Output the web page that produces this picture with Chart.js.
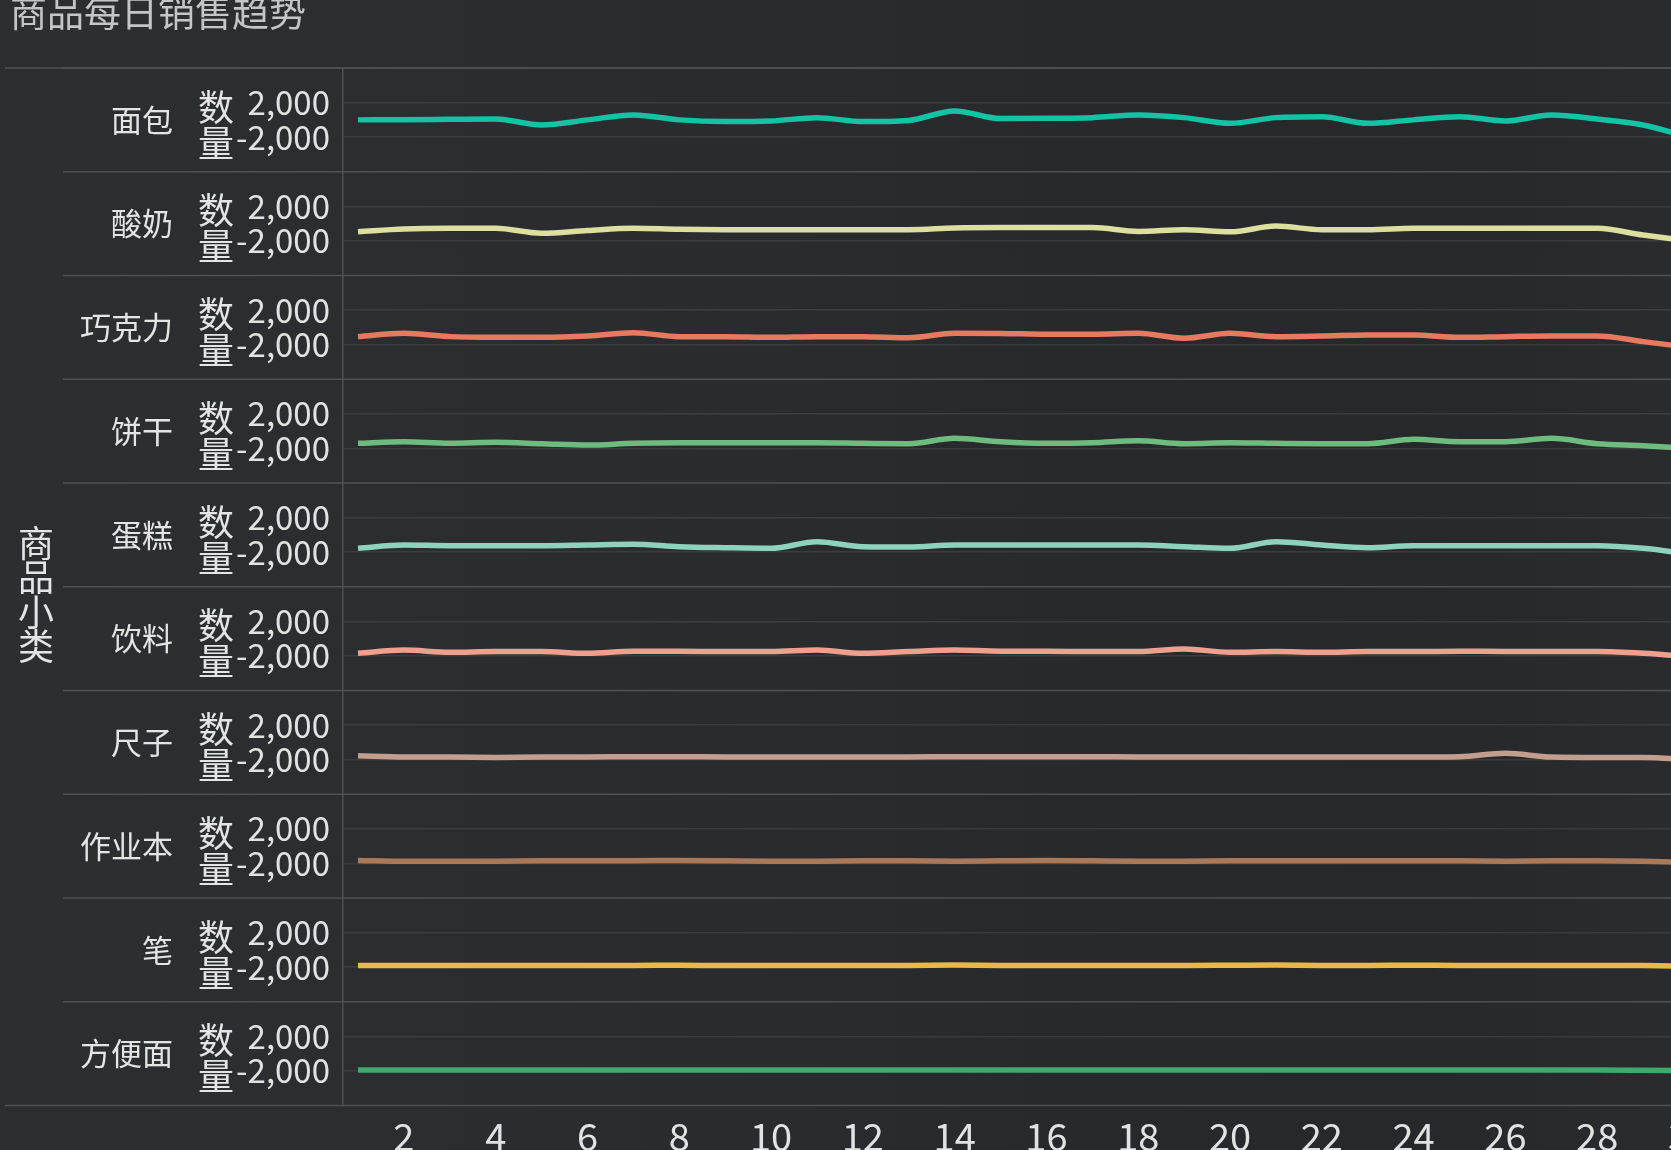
<!DOCTYPE html>
<html>
<head>
<meta charset="utf-8">
<title>商品每日销售趋势</title>
<script src="https://cdn.jsdelivr.net/npm/chart.js@4.4.1/dist/chart.umd.min.js"></script>
<style>
  html, body { margin: 0; padding: 0; }
  body {
    width: 1671px; height: 1150px; overflow: hidden;
    background: linear-gradient(90deg, #2d2e32 0%, #2b2c30 35%, #28292d 65%, #27282c 85%, #2a2b2f 100%);
  }
  #wrap { position: relative; width: 1671px; height: 1150px; overflow: hidden; }
  canvas { position: absolute; left: 0; top: 0; }
</style>
</head>
<body>
<div id="wrap"><canvas id="trend" width="1760" height="1150"></canvas></div>
<script>
// 日期 (1~30日)
var days = [1,2,3,4,5,6,7,8,9,10,11,12,13,14,15,16,17,18,19,20,21,22,23,24,25,26,27,28,29,30];

// 商品小类
var categories = ['面包','酸奶','巧克力','饼干','蛋糕','饮料','尺子','作业本','笔','方便面'];
var colors = ['#13c3a3','#dcdf9e','#e57a5f','#6dbb7d','#8dd1be','#eea08e','#c49e8c','#a87a5a','#e9b847','#3dab6c'];

// 每日数量
var breadQty     = [0,20,60,100,-590,0,570,0,-200,-130,260,-200,-60,1030,150,180,260,570,260,-400,260,370,-400,0,370,-130,570,100,-590,-2000];
var yogurtQty    = [-940,-625,-545,-545,-1120,-800,-545,-660,-700,-700,-700,-700,-700,-500,-450,-450,-450,-900,-700,-950,-280,-700,-700,-545,-545,-545,-545,-545,-1320,-2000];
var chocolateQty = [-1070,-685,-1070,-1150,-1150,-995,-610,-1070,-1070,-1150,-1070,-1070,-1190,-685,-700,-800,-800,-685,-1260,-685,-1070,-995,-880,-880,-1150,-1070,-995,-995,-1650,-2300];
var biscuitQty   = [-1410,-1225,-1410,-1300,-1450,-1610,-1410,-1350,-1350,-1350,-1350,-1410,-1450,-835,-1225,-1410,-1350,-1110,-1450,-1350,-1410,-1450,-1450,-950,-1225,-1225,-835,-1450,-1690,-2000];
var cakeQty      = [-1550,-1170,-1250,-1250,-1250,-1170,-1090,-1365,-1480,-1550,-785,-1365,-1400,-1170,-1170,-1170,-1170,-1170,-1365,-1550,-785,-1170,-1480,-1250,-1250,-1250,-1250,-1250,-1550,-2200];
var drinkQty     = [-1700,-1320,-1575,-1500,-1500,-1700,-1450,-1450,-1500,-1500,-1320,-1700,-1500,-1320,-1450,-1450,-1500,-1500,-1200,-1575,-1500,-1575,-1500,-1500,-1450,-1500,-1500,-1500,-1700,-2100];
var rulerQty     = [-1550,-1700,-1700,-1750,-1700,-1700,-1650,-1650,-1700,-1700,-1700,-1700,-1700,-1650,-1650,-1650,-1650,-1700,-1700,-1700,-1700,-1700,-1700,-1700,-1650,-1250,-1700,-1750,-1750,-2000];
var notebookQty  = [-1650,-1750,-1750,-1750,-1700,-1700,-1700,-1650,-1700,-1750,-1750,-1700,-1700,-1750,-1700,-1650,-1700,-1750,-1750,-1700,-1700,-1700,-1700,-1700,-1700,-1750,-1700,-1700,-1750,-1900];
var penQty       = [-1800,-1800,-1800,-1800,-1800,-1800,-1800,-1780,-1820,-1800,-1800,-1800,-1800,-1760,-1800,-1800,-1800,-1800,-1800,-1780,-1760,-1800,-1800,-1780,-1800,-1800,-1800,-1800,-1820,-1900];
var noodleQty    = [-1900,-1900,-1900,-1900,-1900,-1900,-1900,-1900,-1900,-1900,-1900,-1900,-1900,-1900,-1900,-1900,-1900,-1900,-1900,-1900,-1900,-1900,-1900,-1900,-1900,-1900,-1900,-1900,-1920,-1960];

// y轴刻度
var yTicks = [-2000, 2000];

var series = [breadQty, yogurtQty, chocolateQty, biscuitQty, cakeQty, drinkQty, rulerQty, notebookQty, penQty, noodleQty];
var FONT = "'Noto Sans CJK SC', 'Noto Sans', sans-serif";

var datasets = [];
var scales = {
	x: {
		type: 'linear',
		position: 'bottom',
		min: 0.673,
		max: 30.327,
		grid: { display: false },
		border: { display: false },
		ticks: {
			stepSize: 2,
			includeBounds: false,
			autoSkip: false,
			maxRotation: 0,
			color: '#e2e2e2',
			padding: 0,
			font: { family: FONT, size: 38 }
		},
		afterFit: function(scale) { scale.height = 44.5; }
	}
};

for (var i = 0; i < categories.length; i++) {
	datasets.push({
		label: categories[i],
		data: series[i],
		yAxisID: 'y' + i,
		borderColor: colors[i],
		backgroundColor: colors[i],
		borderWidth: 5.5,
		pointRadius: 0,
		cubicInterpolationMode: 'monotone',
		fill: false
	});
	scales['y' + i] = {
		type: 'linear',
		position: 'left',
		stack: 'rows',
		stackWeight: 1,
		weight: categories.length - i,
		min: -6000,
		max: 6000,
		grid: { color: '#3b3c40', lineWidth: 1.5, drawTicks: false },
		border: { display: true, color: '#4f5054', width: 1.5 },
		ticks: {
			stepSize: 4000,
			autoSkip: false,
			padding: 13,
			color: '#e2e2e2',
			font: { family: FONT, size: 33 },
			callback: function(v) {
				return yTicks.indexOf(v) >= 0 ? v.toLocaleString('en-US') : null;
			}
		},
		afterFit: function(scale) { scale.width = 343; }
	};
}

// 分面装饰: 行分隔线, 行标签, 标题
const facetDeco = {
	id: 'facetDeco',
	beforeDatasetsDraw(chart) {
		const ctx = chart.ctx;
		var top = Infinity, bottom = -Infinity;
		ctx.save();
		ctx.strokeStyle = '#505155';
		ctx.lineWidth = 1.5;
		for (var i = 0; i < categories.length; i++) {
			var s = chart.scales['y' + i];
			top = Math.min(top, s.top);
			bottom = Math.max(bottom, s.bottom);
			ctx.beginPath();
			ctx.moveTo(63, s.top);
			ctx.lineTo(chart.width, s.top);
			ctx.stroke();
		}
		ctx.beginPath();
		ctx.moveTo(5, top); ctx.lineTo(chart.width, top);
		ctx.moveTo(5, bottom); ctx.lineTo(chart.width, bottom);
		ctx.stroke();
		ctx.restore();
	},
	afterDraw(chart) {
		const ctx = chart.ctx;
		ctx.save();
		ctx.textBaseline = 'middle';

		ctx.fillStyle = '#c4c5c7';
		ctx.textAlign = 'left';
		ctx.font = '37px ' + FONT;
		ctx.fillText('商品每日销售趋势', 10, 13);

		ctx.fillStyle = '#e4e4e4';
		ctx.textAlign = 'center';
		ctx.font = '36px ' + FONT;
		var vt = '商品小类';
		for (var k = 0; k < vt.length; k++) {
			ctx.fillText(vt[k], 36, 543.5 + k * 34.3);
		}

		for (var i = 0; i < categories.length; i++) {
			var s = chart.scales['y' + i];
			var c = (s.top + s.bottom) / 2;
			ctx.textAlign = 'right';
			ctx.font = '31px ' + FONT;
			ctx.fillText(categories[i], 173, c);
			ctx.textAlign = 'center';
			ctx.font = '36px ' + FONT;
			ctx.fillText('数', 216, c - 13);
			ctx.fillText('量', 216, c + 23);
		}
		ctx.restore();
	}
};

const ctx = document.getElementById('trend').getContext('2d');
const trendChart = new Chart(ctx, {
	type: 'line',
	data: {
		labels: days,
		datasets: datasets
	},
	options: {
		responsive: false,
		animation: false,
		devicePixelRatio: 1,
		layout: { padding: { top: 68, right: 56, left: 0, bottom: 0 } },
		plugins: {
			legend: { display: false },
			tooltip: { enabled: false }
		},
		scales: scales
	},
	plugins: [facetDeco]
});
</script>
</body>
</html>
